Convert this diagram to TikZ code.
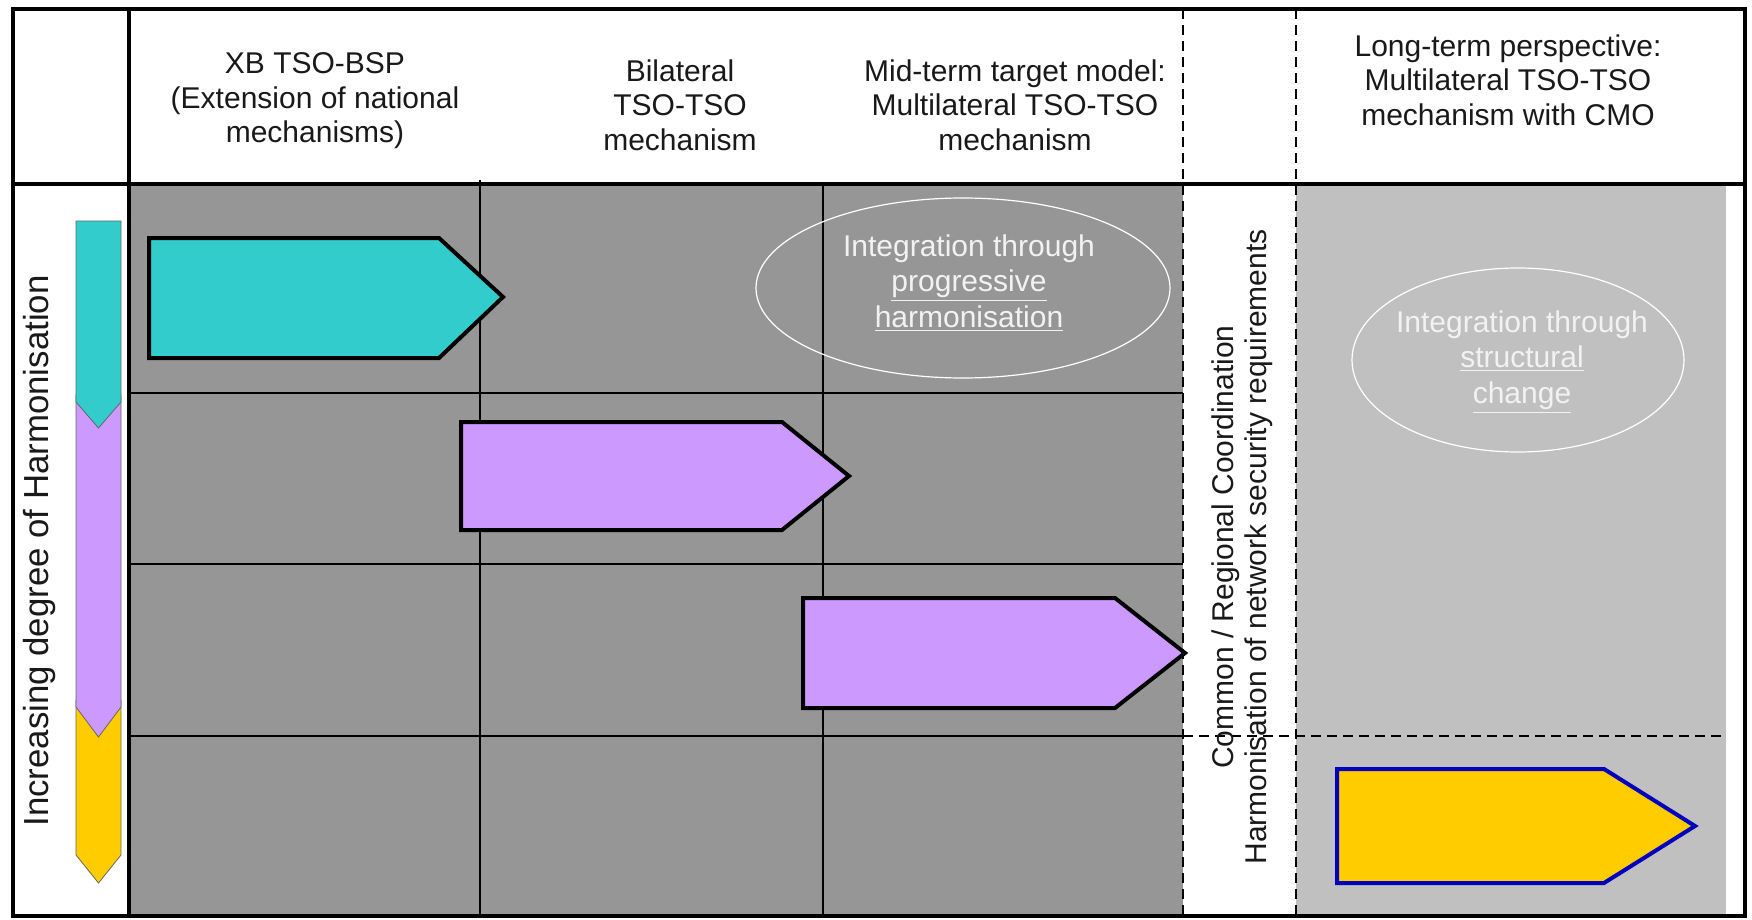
\documentclass[tikz,border=0pt]{standalone}
\usepackage{fontspec}
\setmainfont{Liberation Sans}
\usetikzlibrary{shapes.geometric}
\definecolor{darkbg}{RGB}{150,150,150}
\definecolor{lightbg}{RGB}{192,192,192}
\definecolor{tealfill}{RGB}{51,204,204}
\definecolor{purplefill}{RGB}{204,153,255}
\definecolor{yellowfill}{RGB}{255,204,0}
\definecolor{blueline}{RGB}{0,0,190}
\definecolor{ellipsetext}{RGB}{242,242,242}
\tikzset{
  frameline/.style={line width=2pt,black},
  gridline/.style={line width=0.7pt,black},
  dashline/.style={line width=0.8pt,black,dash pattern=on 5pt off 3pt},
  bigarrow/.style={line width=2pt,black,line join=miter},
  barpiece/.style={line width=0.4pt,black!60},
  headtext/.style={align=center,text=black!90,inner sep=0pt},
  elltext/.style={align=center,text=ellipsetext,inner sep=0pt,font=\fontsize{15}{17.8}\selectfont},
  ellshape/.style={ellipse,draw=white,line width=0.6pt,inner sep=0pt},
}
\begin{document}
\begin{tikzpicture}[x=0.5pt,y=-0.5pt,font=\fontsize{15}{17.3}\selectfont]
\useasboundingbox (0,0) rectangle (1752,920);
% backgrounds
\fill[darkbg] (131,186) rectangle (1183,914);
\fill[lightbg] (1296,186) rectangle (1726,914);
% grid
\draw[gridline] (480,180) -- (480,914);
\draw[gridline] (823,184) -- (823,914);
\draw[gridline] (131,393) -- (1183,393);
\draw[gridline] (131,564) -- (1183,564);
\draw[gridline] (131,736) -- (1183,736);
\draw[dashline] (1183,736) -- (1721,736);
\draw[dashline] (1183,9) -- (1183,916);
\draw[dashline] (1296,9) -- (1296,916);
% frame
\draw[frameline] (13,9) rectangle (1745,916);
\draw[frameline] (13,184) -- (1745,184);
\draw[frameline] (129,9) -- (129,916);
% left bar
\draw[barpiece,fill=yellowfill] (76,700) -- (121,700) -- (121,855) -- (98.5,883) -- (76,855) -- cycle;
\draw[barpiece,fill=purplefill] (76,395) -- (121,395) -- (121,707) -- (98.5,737) -- (76,707) -- cycle;
\draw[barpiece,fill=tealfill] (76,221) -- (121,221) -- (121,402) -- (98.5,428) -- (76,402) -- cycle;
% big arrows
\draw[bigarrow,fill=tealfill] (149,238) -- (439,238) -- (503,297) -- (439,358) -- (149,358) -- cycle;
\draw[bigarrow,fill=purplefill] (461,422) -- (782,422) -- (849,476) -- (782,530) -- (461,530) -- cycle;
\draw[bigarrow,fill=purplefill] (803,598) -- (1115,598) -- (1185,653) -- (1115,708) -- (803,708) -- cycle;
\draw[bigarrow,draw=blueline,fill=yellowfill] (1337,769) -- (1604,769) -- (1695,826) -- (1604,883) -- (1337,883) -- cycle;
% ellipses
\node[ellshape,minimum width=207pt,minimum height=90pt] (ell1) at (963,288) {};
\node[ellshape,minimum width=166pt,minimum height=92pt] (ell2) at (1518,360) {};
\node[elltext] (ell1t) at (969,283) {Integration through\\\underline{progressive}\\\underline{harmonisation}};
\node[elltext] (ell2t) at (1522,362) {Integration through\\\underline{structural}\\\underline{change}};
% headers
\node[headtext] (h1) at (315,101) {XB TSO-BSP\\(Extension of national\\mechanisms)};
\node[headtext] (h2) at (680,105) {Bilateral\\TSO-TSO\\mechanism};
\node[headtext] (h3) at (1015,105) {Mid-term target model:\\Multilateral TSO-TSO\\mechanism};
\node[headtext] (h4) at (1508,80) {Long-term perspective:\\Multilateral TSO-TSO\\mechanism with CMO};
% rotated labels
\node[rotate=90,text=black!90,inner sep=0pt,font=\fontsize{17.4}{20}\selectfont] (lbl) at (40,551) {Increasing degree of Harmonisation};
\node[rotate=90,headtext,font=\fontsize{15}{16.5}\selectfont] (strip) at (1242,547) {Common / Regional Coordination\\Harmonisation of network security requirements};
\end{tikzpicture}
\end{document}
